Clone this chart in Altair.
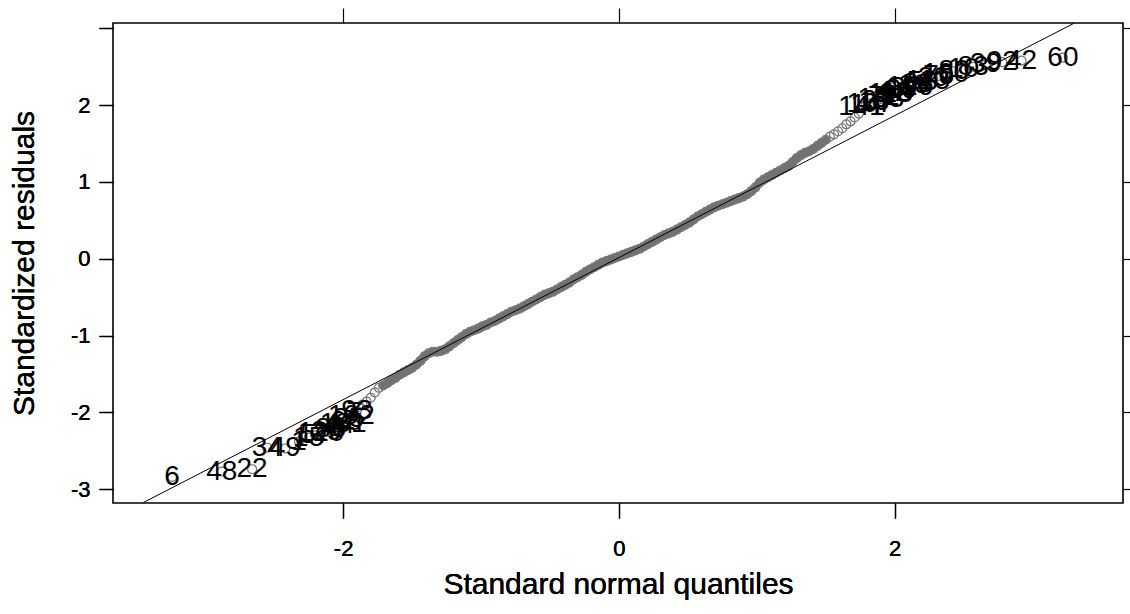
import altair as alt
import pandas as pd

# ---- data ----
# unlabeled central points (theoretical quantile, standardized residual)
mid_x = [-1.89, -1.86, -1.83, -1.80, -1.77, -1.74, -1.71, -1.68, -1.65, -1.62, -1.59, -1.56, -1.53, -1.50,
         -1.47, -1.44, -1.41, -1.38, -1.35, -1.32, -1.29, -1.26, -1.23, -1.20, -1.17, -1.14, -1.11, -1.08,
         -1.05, -1.02, -0.99, -0.96, -0.93, -0.90, -0.87, -0.84, -0.81, -0.78, -0.75, -0.72, -0.69, -0.66,
         -0.63, -0.60, -0.57, -0.54, -0.51, -0.48, -0.45, -0.42, -0.39, -0.36, -0.33, -0.30, -0.27, -0.24,
         -0.21, -0.18, -0.15, -0.12, -0.09, -0.06, -0.03, 0.00, 0.03, 0.06, 0.09, 0.12, 0.15, 0.18, 0.21,
         0.24, 0.27, 0.30, 0.33, 0.36, 0.39, 0.42, 0.45, 0.48, 0.51, 0.54, 0.57, 0.60, 0.63, 0.66, 0.69,
         0.72, 0.75, 0.78, 0.81, 0.84, 0.87, 0.90, 0.93, 0.96, 0.99, 1.02, 1.05, 1.08, 1.11, 1.14, 1.17,
         1.20, 1.23, 1.26, 1.29, 1.32, 1.35, 1.38, 1.41, 1.44, 1.47, 1.50, 1.53, 1.56, 1.59, 1.62, 1.65,
         1.68, 1.71, 1.74]
mid_y = [-1.93, -1.90, -1.86, -1.81, -1.74, -1.68, -1.65, -1.62, -1.58, -1.55, -1.51, -1.48, -1.45, -1.42,
         -1.38, -1.33, -1.27, -1.23, -1.21, -1.21, -1.20, -1.18, -1.14, -1.10, -1.06, -1.02, -0.98, -0.95,
         -0.93, -0.91, -0.88, -0.86, -0.83, -0.81, -0.78, -0.75, -0.72, -0.69, -0.67, -0.65, -0.62, -0.59,
         -0.56, -0.53, -0.50, -0.47, -0.45, -0.43, -0.40, -0.37, -0.34, -0.31, -0.27, -0.24, -0.21, -0.17,
         -0.14, -0.11, -0.08, -0.05, -0.03, -0.01, 0.01, 0.03, 0.05, 0.07, 0.09, 0.11, 0.13, 0.16, 0.19,
         0.22, 0.25, 0.28, 0.31, 0.33, 0.35, 0.38, 0.41, 0.44, 0.47, 0.51, 0.55, 0.58, 0.61, 0.64, 0.67,
         0.69, 0.71, 0.73, 0.75, 0.77, 0.79, 0.81, 0.84, 0.88, 0.93, 0.99, 1.03, 1.06, 1.09, 1.12, 1.15,
         1.18, 1.21, 1.26, 1.31, 1.35, 1.38, 1.40, 1.43, 1.47, 1.51, 1.55, 1.59, 1.62, 1.66, 1.70, 1.75,
         1.79, 1.84, 1.89]

# labeled outlying points (|residual| > 1.96)
low_x = [-3.24, -2.88, -2.66, -2.55, -2.42, -2.32, -2.25, -2.20, -2.16, -2.12, -2.09, -2.06, -2.03,
         -2.00, -1.98, -1.96, -1.94, -1.92, -1.90]
low_y = [-2.84, -2.77, -2.74, -2.46, -2.47, -2.38, -2.33, -2.30, -2.27, -2.25, -2.22, -2.20, -2.17,
         -2.15, -2.12, -2.08, -2.05, -2.01, -1.98]
low_id = ["6", "48", "22", "34", "49", "1", "15", "57", "120", "29", "86", "9", "44",
          "131", "68", "25", "102", "7", "93"]

high_x = [1.76, 1.79, 1.82, 1.85, 1.87, 1.90, 1.92, 1.95, 1.97, 2.00, 2.02, 2.05, 2.08, 2.11,
          2.14, 2.17, 2.20, 2.24, 2.28, 2.32, 2.37, 2.43, 2.50, 2.57, 2.66, 2.78, 2.92, 3.22]
high_y = [1.98, 2.00, 2.02, 2.04, 2.06, 2.08, 2.10, 2.12, 2.14, 2.16, 2.18, 2.20, 2.22, 2.24,
          2.26, 2.28, 2.30, 2.32, 2.35, 2.38, 2.41, 2.44, 2.47, 2.50, 2.53, 2.56, 2.58, 2.62]
high_id = ["141", "14", "107", "16", "27", "133", "71", "5", "118", "12", "64", "99", "37", "126",
           "19", "88", "53", "113", "20", "75", "100", "80", "10", "83", "39", "92", "42", "60"]

# reference line end points (where it meets the frame)
line_x = [-3.45, 3.30]
line_y = [-3.175, 3.066]

x_ticks = [-2, 0, 2]
y_ticks = [-3, -2, -1, 0, 1, 2, 3]
x_domain = [-3.669, 3.656]
y_domain = [-3.18, 3.07]

# ---- tables ----
pts = pd.DataFrame({"q": mid_x + low_x + high_x, "r": mid_y + low_y + high_y})
band = pd.DataFrame({"q": mid_x, "r": mid_y})
labs = pd.DataFrame({"q": low_x + high_x, "r": low_y + high_y, "id": low_id + high_id})
ref = pd.DataFrame({"q": line_x, "r": line_y})

FONT = "Liberation Sans"
GREY = "#727272"

xs = alt.Scale(domain=x_domain, nice=False, zero=False)
ys = alt.Scale(domain=y_domain, nice=False, zero=False)

x_bottom = alt.Axis(values=x_ticks, orient="bottom", title="Standard normal quantiles", grid=False,
                    domain=False, tickColor="black", tickSize=15, tickWidth=1.2,
                    labelExpr="toString(datum.value)",
                    labelFont=FONT, labelFontSize=22, labelColor="black", labelPadding=30,
                    labelBaseline="middle",
                    titleFont=FONT, titleFontSize=30, titleFontWeight="normal", titleColor="black",
                    titleY=81, titleBaseline="middle")
y_left = alt.Axis(values=y_ticks, orient="left", title="Standardized residuals", grid=False,
                  domain=False, tickColor="black", tickSize=14, tickWidth=1.2,
                  labelFont=FONT, labelFontSize=22, labelColor="black", labelPadding=9,
                  labelExpr="datum.value == 3 ? '' : toString(datum.value)",
                  titleFont=FONT, titleFontSize=30, titleFontWeight="normal", titleColor="black",
                  titleX=-89, titleY=240, titleBaseline="middle")
x_top = alt.Axis(values=x_ticks, orient="top", title=None, grid=False, domain=False, labels=False,
                 tickColor="black", tickSize=15, tickWidth=1.2)
y_right = alt.Axis(values=y_ticks, orient="right", title=None, grid=False, domain=False, labels=False,
                   tickColor="black", tickSize=14, tickWidth=1.2)

band_line = alt.Chart(band).mark_line(color=GREY, strokeWidth=8, strokeCap="round",
                                      strokeJoin="round").encode(
    x=alt.X("q:Q", scale=xs, axis=x_bottom),
    y=alt.Y("r:Q", scale=ys, axis=y_left),
    order="q:Q",
).transform_filter("datum.q > -1.72 && datum.q < 1.52")

points = alt.Chart(pts).mark_point(shape="circle", filled=False, size=80, stroke=GREY,
                                    strokeWidth=1.2, opacity=1).encode(
    x=alt.X("q:Q", scale=xs, axis=x_bottom),
    y=alt.Y("r:Q", scale=ys, axis=y_left),
)

labels = alt.Chart(labs).mark_text(font=FONT, fontSize=28, color="black", align="center",
                                   baseline="middle").encode(
    x=alt.X("q:Q", scale=xs, axis=x_top),
    y=alt.Y("r:Q", scale=ys, axis=y_right),
    text="id:N",
)

line = alt.Chart(ref).mark_line(color="black", strokeWidth=1).encode(
    x=alt.X("q:Q", scale=xs, axis=x_bottom),
    y=alt.Y("r:Q", scale=ys, axis=y_left),
)

chart = alt.layer(band_line, points, labels, line).properties(
    width=1010, height=480,
    autosize=alt.AutoSizeParams(type="none"),
    padding={"left": 113, "top": 23, "right": 7, "bottom": 111},
    background="white",
).configure_view(stroke="black", strokeWidth=1.6)

chart.save("out.html", embed_options={"renderer": "svg", "actions": False})
